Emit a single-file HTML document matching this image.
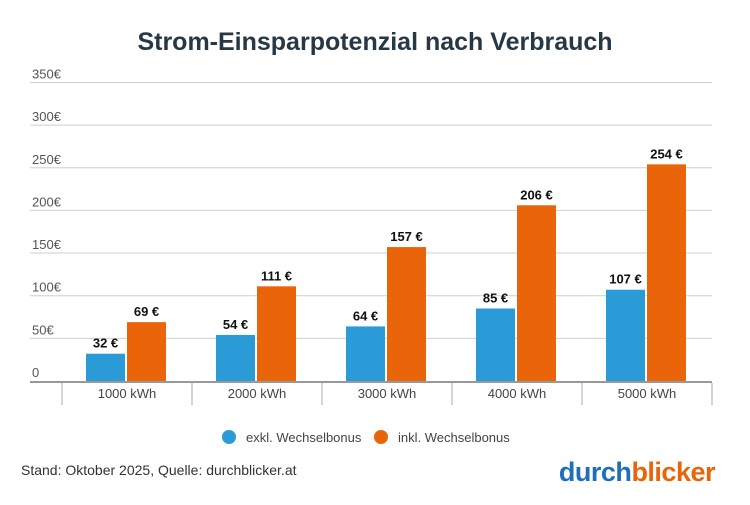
<!DOCTYPE html>
<html><head><meta charset="utf-8"><style>
body{margin:0;background:#fff;font-family:"Liberation Sans",sans-serif;}
svg text{font-family:"Liberation Sans",sans-serif;}
</style></head><body>
<svg width="750" height="500" viewBox="0 0 750 500">
<text x="375" y="50" text-anchor="middle" font-size="25" font-weight="bold" fill="#263845">Strom-Einsparpotenzial nach Verbrauch</text>
<g id="grid"></g><g id="bars"></g><g id="axis"></g>
<g>
<circle cx="229" cy="437" r="7" fill="#2b9bd8"/>
<text x="246" y="442" font-size="13" fill="#444">exkl. Wechselbonus</text>
<circle cx="381" cy="437" r="7" fill="#ea6509"/>
<text x="398" y="442" font-size="13" fill="#444">inkl. Wechselbonus</text>
</g>
<text x="21" y="475" font-size="14" fill="#333">Stand: Oktober 2025, Quelle: durchblicker.at</text>
<text x="715" y="481" text-anchor="end" font-size="27" font-weight="bold" letter-spacing="-0.5"><tspan fill="#1f6fb8">durch</tspan><tspan fill="#ea6509">blicker</tspan></text>
</svg>
<script>
const categories=["1000 kWh","2000 kWh","3000 kWh","4000 kWh","5000 kWh"];
const exklValues=[32,54,64,85,107];
const inklValues=[69,111,157,206,254];
const yTicks=[0,50,100,150,200,250,300,350];
const yTickLabels=["0","50€","100€","150€","200€","250€","300€","350€"];
const NS="http://www.w3.org/2000/svg";
const y0=381,k=0.853,x0=62,band=130;
const y=v=>y0-v*k;
const xb=i=>x0+i*band;
function mk(t,a,p){const e=document.createElementNS(NS,t);for(const n in a)e.setAttribute(n,a[n]);p.appendChild(e);return e;}
const grid=document.getElementById('grid'),bars=document.getElementById('bars'),axis=document.getElementById('axis');
yTicks.forEach((v,i)=>{
 if(v>0){const l=mk('line',{x1:30,x2:712,y1:y(v),y2:y(v),stroke:'#cfcfcf','stroke-width':1},grid);
 
 }
 const t=mk('text',{x:32,y:y(v)-4,'font-size':13,fill:'#555'},grid);t.textContent=yTickLabels[i];
 
 
});
const base=mk('line',{x1:30,x2:712,y1:y0+1,y2:y0+1,stroke:'#999','stroke-width':2},axis);


for(let i=0;i<=categories.length;i++){
 const d=mk('line',{x1:xb(i),x2:xb(i),y1:y0+2,y2:405,stroke:'#aaa','stroke-width':1},axis);
 
 
}
categories.forEach((c,i)=>{
 const t=mk('text',{x:xb(i)+band/2,y:398,'text-anchor':'middle','font-size':13,fill:'#444'},axis);t.textContent=c;
 
 
 [[exklValues[i],'#2b9bd8',24,'exkl'],[inklValues[i],'#ea6509',65,'inkl']].forEach(([v,col,off,n])=>{
  const r=mk('rect',{x:xb(i)+off,y:y(v),width:39,height:v*k,fill:col},bars);
  
  
  const lb=mk('text',{x:xb(i)+off+19.5,y:y(v)-6,'text-anchor':'middle','font-size':13,'font-weight':'bold',fill:'#111'},bars);
  lb.textContent=v+' €';
  
  
 });
});
</script>
</body></html>
